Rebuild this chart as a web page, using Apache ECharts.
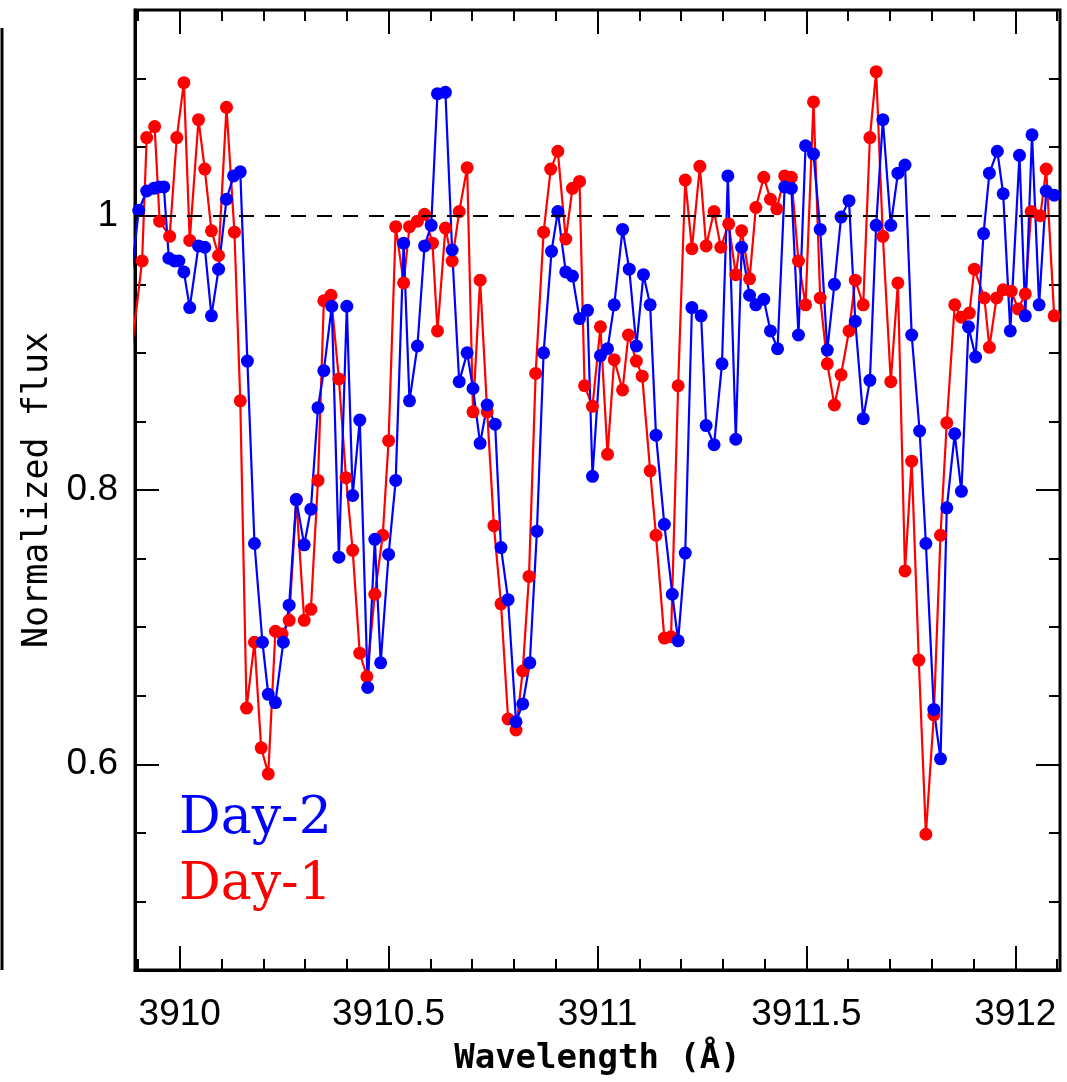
<!DOCTYPE html>
<html>
<head>
<meta charset="utf-8">
<title>Normalized flux</title>
<script src="https://cdn.jsdelivr.net/npm/echarts@6/dist/echarts.min.js"></script>
<style>
html, body { margin: 0; padding: 0; background: #fff; }
#chart { width: 1067px; height: 1082px; }
</style>
</head>
<body>
<div id="chart"></div>
<script>
// Day-2 (blue)
let blueWave = [3909.885, 3909.902, 3909.921, 3909.938, 3909.950, 3909.962, 3909.974, 3909.988, 3909.998, 3910.010,
  3910.024, 3910.045, 3910.060, 3910.076, 3910.093, 3910.112, 3910.129, 3910.145, 3910.162, 3910.179,
  3910.198, 3910.212, 3910.229, 3910.248, 3910.262, 3910.279, 3910.298, 3910.314, 3910.331, 3910.345,
  3910.364, 3910.381, 3910.400, 3910.414, 3910.431, 3910.450, 3910.467, 3910.481, 3910.500, 3910.517,
  3910.536, 3910.550, 3910.569, 3910.586, 3910.602, 3910.617, 3910.636, 3910.652, 3910.669, 3910.688,
  3910.702, 3910.719, 3910.736, 3910.755, 3910.769, 3910.786, 3910.805, 3910.821, 3910.838, 3910.855,
  3910.871, 3910.890, 3910.905, 3910.924, 3910.940, 3910.957, 3910.976, 3910.988, 3911.007, 3911.024,
  3911.040, 3911.060, 3911.076, 3911.093, 3911.110, 3911.126, 3911.140, 3911.160, 3911.179, 3911.193,
  3911.210, 3911.226, 3911.248, 3911.260, 3911.279, 3911.298, 3911.312, 3911.331, 3911.345, 3911.364,
  3911.379, 3911.398, 3911.414, 3911.431, 3911.448, 3911.464, 3911.481, 3911.498, 3911.517, 3911.533,
  3911.550, 3911.567, 3911.583, 3911.602, 3911.617, 3911.636, 3911.652, 3911.667, 3911.683, 3911.702,
  3911.719, 3911.736, 3911.752, 3911.771, 3911.786, 3911.805, 3911.821, 3911.836, 3911.855, 3911.871,
  3911.888, 3911.905, 3911.924, 3911.938, 3911.957, 3911.971, 3911.988, 3912.010, 3912.024, 3912.040,
  3912.057, 3912.074, 3912.093];
let blueFlux = [0.958, 1.004, 1.018, 1.020, 1.021, 1.021, 0.969, 0.967, 0.967, 0.959,
  0.933, 0.978, 0.977, 0.927, 0.961, 1.012, 1.029, 1.032, 0.894, 0.761,
  0.689, 0.651, 0.645, 0.689, 0.716, 0.793, 0.760, 0.786, 0.860, 0.887,
  0.934, 0.751, 0.934, 0.796, 0.851, 0.656, 0.764, 0.674, 0.753, 0.807,
  0.980, 0.865, 0.905, 0.978, 0.993, 1.089, 1.090, 0.975, 0.879, 0.900,
  0.874, 0.834, 0.862, 0.848, 0.758, 0.720, 0.631, 0.644, 0.674, 0.770,
  0.900, 0.974, 1.003, 0.959, 0.956, 0.925, 0.931, 0.810, 0.898, 0.903,
  0.935, 0.990, 0.961, 0.905, 0.957, 0.935, 0.840, 0.775, 0.724, 0.690,
  0.754, 0.933, 0.927, 0.847, 0.833, 0.892, 1.029, 0.837, 0.977, 0.942,
  0.935, 0.939, 0.916, 0.903, 1.021, 1.020, 0.913, 1.051, 1.045, 0.990,
  0.902, 0.950, 0.999, 1.011, 0.923, 0.852, 0.880, 0.993, 1.070, 0.993,
  1.031, 1.037, 0.913, 0.843, 0.761, 0.640, 0.604, 0.787, 0.841, 0.799,
  0.919, 0.897, 0.987, 1.031, 1.047, 1.016, 0.916, 1.044, 0.927, 1.059,
  0.935, 1.018, 1.015];

// Day-1 (red)
let redWave = [3909.886, 3909.910, 3909.921, 3909.940, 3909.952, 3909.976, 3909.993, 3910.010, 3910.024, 3910.045,
  3910.060, 3910.076, 3910.093, 3910.112, 3910.131, 3910.145, 3910.160, 3910.179, 3910.195, 3910.212,
  3910.229, 3910.245, 3910.262, 3910.279, 3910.298, 3910.314, 3910.331, 3910.345, 3910.362, 3910.381,
  3910.398, 3910.414, 3910.431, 3910.448, 3910.467, 3910.486, 3910.500, 3910.517, 3910.536, 3910.550,
  3910.569, 3910.586, 3910.605, 3910.617, 3910.636, 3910.652, 3910.669, 3910.688, 3910.702, 3910.719,
  3910.736, 3910.752, 3910.769, 3910.786, 3910.805, 3910.821, 3910.836, 3910.852, 3910.871, 3910.888,
  3910.905, 3910.924, 3910.940, 3910.957, 3910.969, 3910.988, 3911.007, 3911.024, 3911.040, 3911.060,
  3911.074, 3911.093, 3911.107, 3911.126, 3911.140, 3911.160, 3911.176, 3911.193, 3911.210, 3911.226,
  3911.245, 3911.260, 3911.279, 3911.295, 3911.314, 3911.331, 3911.345, 3911.364, 3911.379, 3911.398,
  3911.414, 3911.429, 3911.448, 3911.464, 3911.481, 3911.498, 3911.517, 3911.533, 3911.550, 3911.567,
  3911.583, 3911.602, 3911.617, 3911.636, 3911.652, 3911.667, 3911.683, 3911.702, 3911.719, 3911.736,
  3911.752, 3911.769, 3911.786, 3911.805, 3911.821, 3911.836, 3911.855, 3911.871, 3911.890, 3911.902,
  3911.926, 3911.938, 3911.955, 3911.971, 3911.990, 3912.007, 3912.024, 3912.038, 3912.060, 3912.074,
  3912.093];
let redFlux = [0.905, 0.967, 1.057, 1.065, 0.996, 0.985, 1.057, 1.097, 0.982, 1.070,
  1.034, 0.989, 0.971, 1.079, 0.988, 0.865, 0.641, 0.689, 0.612, 0.593,
  0.697, 0.695, 0.705, 0.793, 0.705, 0.713, 0.807, 0.938, 0.942, 0.881,
  0.809, 0.756, 0.681, 0.664, 0.724, 0.767, 0.836, 0.992, 0.951, 0.992,
  0.996, 1.001, 0.980, 0.916, 0.991, 0.967, 1.003, 1.035, 0.857, 0.953,
  0.857, 0.774, 0.717, 0.633, 0.625, 0.668, 0.737, 0.885, 0.988, 1.034,
  1.047, 0.983, 1.020, 1.025, 0.876, 0.861, 0.919, 0.826, 0.895, 0.873,
  0.913, 0.894, 0.883, 0.814, 0.767, 0.692, 0.693, 0.876, 1.026, 0.976,
  1.036, 0.978, 1.003, 0.977, 0.994, 0.957, 0.989, 0.954, 1.006, 1.028,
  1.012, 1.005, 1.029, 1.028, 0.967, 0.935, 1.083, 0.940, 0.892, 0.862,
  0.884, 0.916, 0.953, 0.935, 1.057, 1.105, 0.985, 0.879, 0.951, 0.741,
  0.821, 0.676, 0.549, 0.636, 0.767, 0.849, 0.935, 0.926, 0.929, 0.961,
  0.940, 0.904, 0.940, 0.946, 0.945, 0.932, 0.943, 1.003, 1.000, 1.034,
  0.927];

let xMajor = [3910, 3910.5, 3911, 3911.5, 3912];
let xMinor = [3909.9, 3910, 3910.1, 3910.2, 3910.3, 3910.4, 3910.5, 3910.6, 3910.7, 3910.8, 3910.9,
  3911, 3911.1, 3911.2, 3911.3, 3911.4, 3911.5, 3911.6, 3911.7, 3911.8, 3911.9, 3912, 3912.1];
let yMajor = [0.6, 0.8, 1];
let yMinor = [0.5, 0.55, 0.6, 0.65, 0.7, 0.75, 0.8, 0.85, 0.9, 0.95, 1, 1.05, 1.1];

function pairs(xs, ys){
  return xs.map(function(x, i){ return [x, ys[i]]; });
}

let chart = echarts.init(document.getElementById('chart'));

let xMin = 3909.893, xMax = 3912.107;
let yMin = 0.45, yMax = 1.15;
let black = '#000';

function xAx(pos, ticks, len, labels){
  return {
    type: 'value', position: pos, min: xMin, max: xMax,
    axisLine: { show: labels, onZero: false, lineStyle: { color: black, width: 3 } },
    axisTick: { inside: true, length: len, customValues: ticks, lineStyle: { color: black, width: 2 } },
    axisLabel: labels ? {
      customValues: xMajor, color: black, fontSize: 37, fontFamily: 'Liberation Sans', margin: 26,
      formatter: function(v){ return String(+v.toFixed(1)); }
    } : { show: false },
    splitLine: { show: false }
  };
}
function yAx(pos, ticks, len, labels){
  return {
    type: 'value', position: pos, min: yMin, max: yMax,
    axisLine: { show: labels, onZero: false, lineStyle: { color: black, width: 3 } },
    axisTick: { inside: true, length: len, customValues: ticks, lineStyle: { color: black, width: 2 } },
    axisLabel: labels ? {
      customValues: yMajor, color: black, fontSize: 37, fontFamily: 'Liberation Sans', margin: 17,
      formatter: function(v){ return String(+v.toFixed(2)); }
    } : { show: false },
    splitLine: { show: false }
  };
}

let xa = xAx('bottom', xMajor, 24, true);
xa.name = 'Wavelength (\u00C5)';
xa.nameLocation = 'middle';
xa.nameGap = 72;
xa.nameTextStyle = { color: black, fontSize: 34, fontFamily: 'DejaVu Sans Mono', fontWeight: 'bold' };

let ya = yAx('left', yMajor, 24, true);
ya.name = 'Normalized flux';
ya.nameLocation = 'middle';
ya.nameRotate = 90;
ya.nameGap = 79;
ya.nameTextStyle = { color: black, fontSize: 35, fontFamily: 'DejaVu Sans Mono' };

let option = {
  backgroundColor: '#fff',
  animation: false,
  grid: { left: 135, right: 7, top: 10, bottom: 112, show: true, borderColor: black, borderWidth: 3, containLabel: false },
  xAxis: [
    xa,
    xAx('bottom', xMinor, 11, false),
    xAx('top', xMajor, 24, false),
    xAx('top', xMinor, 11, false)
  ],
  yAxis: [
    ya,
    yAx('left', yMinor, 11, false),
    yAx('right', yMajor, 24, false),
    yAx('right', yMinor, 11, false)
  ],
  graphic: [
    { type: 'line', shape: { x1: 2, y1: 28, x2: 2, y2: 970 }, style: { stroke: black, lineWidth: 3 } },
    { type: 'text', left: 179, top: 793, style: { text: 'Day-2', fill: '#0000ff', font: '52px "DejaVu Serif"' } },
    { type: 'text', left: 179, top: 859, style: { text: 'Day-1', fill: '#ff0000', font: '52px "DejaVu Serif"' } }
  ],
  series: [
    {
      name: 'Day-1', type: 'line', data: pairs(redWave, redFlux),
      symbol: 'circle', symbolSize: 13, color: '#ff0000',
      lineStyle: { width: 2.2, color: '#ff0000' },
      markLine: {
        silent: true, symbol: 'none', label: { show: false },
        lineStyle: { color: black, width: 2, type: [15, 11] },
        data: [{ yAxis: 1 }]
      }
    },
    {
      name: 'Day-2', type: 'line', data: pairs(blueWave, blueFlux),
      symbol: 'circle', symbolSize: 13, color: '#0000ff',
      lineStyle: { width: 2.2, color: '#0000ff' }
    }
  ]
};
chart.setOption(option);
</script>
</body>
</html>
